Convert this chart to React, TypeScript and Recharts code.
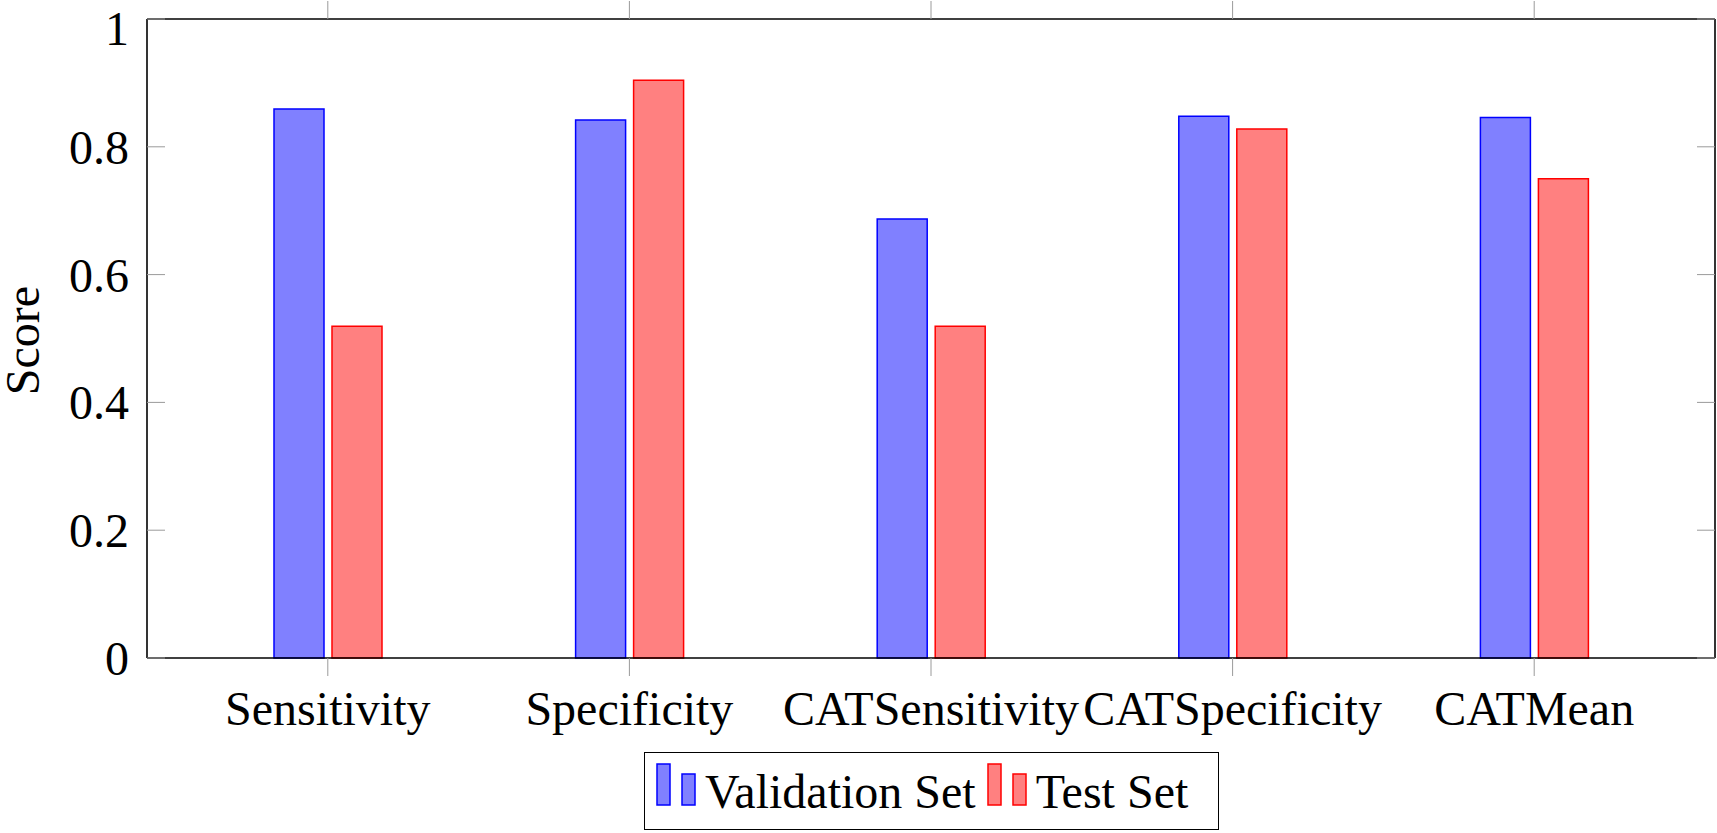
import { BarChart, Bar, XAxis, YAxis, Legend } from 'recharts';

const categories = ['Sensitivity', 'Specificity', 'CATSensitivity', 'CATSpecificity', 'CATMean'];
const validationScores = [0.859, 0.842, 0.687, 0.848, 0.846];
const testScores = [0.519, 0.904, 0.519, 0.828, 0.75];
const yTicks = [0, 0.2, 0.4, 0.6, 0.8, 1];
const seriesNames = ['Validation Set', 'Test Set'];

const data = categories.map((name, i) => ({
  name,
  validation: validationScores[i],
  test: testScores[i],
}));

const FONT = '"Liberation Serif", "Times New Roman", serif';
const TICK_GREY = '#9a9a9a';

const legendItems = [
  { label: seriesNames[0], fill: '#8080ff', stroke: '#0000ff' },
  { label: seriesNames[1], fill: '#ff8080', stroke: '#ff0000' },
];

// pgfplots-style legend: two little bars next to each entry
function renderLegend() {
  return (
    <div
      style={{
        width: 575,
        height: 78,
        border: '1.5px solid #000',
        boxSizing: 'border-box',
        display: 'flex',
        alignItems: 'center',
        paddingLeft: 11,
        fontFamily: FONT,
        fontSize: 48,
        color: '#000',
        background: '#fff',
      }}
    >
      {legendItems.map((item) => (
        <div key={item.label} style={{ display: 'flex', alignItems: 'center' }}>
          <svg width={40} height={43} style={{ marginBottom: 13 }}>
            <rect x={1} y={1} width={13} height={41} fill={item.fill} stroke={item.stroke} strokeWidth={1.5} />
            <rect x={26} y={11} width={13} height={31} fill={item.fill} stroke={item.stroke} strokeWidth={1.5} />
          </svg>
          <span style={{ marginLeft: 9, marginRight: 11, whiteSpace: 'nowrap' }}>{item.label}</span>
        </div>
      ))}
    </div>
  );
}

function renderScoreLabel(props: any) {
  const vb = props.viewBox || {};
  const cx = (vb.x ?? 0) + 22;
  const cy = (vb.y ?? 0) + (vb.height ?? 0) / 2 + 2;
  return (
    <text
      x={cx}
      y={cy}
      transform={`rotate(-90 ${cx} ${cy})`}
      textAnchor="middle"
      dominantBaseline="central"
      fontFamily={FONT}
      fontSize={48}
      fill="#000"
    >
      Score
    </text>
  );
}

export default function App() {
  return (
    <div style={{ position: 'fixed', left: 0, top: 0, background: '#fff' }}>
      <BarChart
        width={1717}
        height={833}
        data={data}
        margin={{ top: 0, right: 0, bottom: 95, left: 0 }}
        barSize={50}
        barGap={8}
      >
        <XAxis
          dataKey="name"
          interval={0}
          padding={{ left: 30, right: 30 }}
          height={80}
          tickSize={18}
          tickMargin={15}
          axisLine={{ stroke: '#000', strokeWidth: 1.6 }}
          tickLine={{ stroke: TICK_GREY, strokeWidth: 1 }}
          tick={{ fontFamily: FONT, fontSize: 48, fill: '#000' }}
        />
        <XAxis
          xAxisId="top"
          orientation="top"
          dataKey="name"
          interval={0}
          padding={{ left: 30, right: 30 }}
          height={19}
          tickSize={18}
          axisLine={{ stroke: '#000', strokeWidth: 1.6 }}
          tickLine={{ stroke: TICK_GREY, strokeWidth: 1 }}
          tick={() => <g />}
        />
        <YAxis
          type="number"
          domain={[0, 1]}
          ticks={yTicks}
          width={147}
          tickSize={-18}
          tickMargin={36}
          axisLine={{ stroke: '#000', strokeWidth: 1.6 }}
          tickLine={{ stroke: TICK_GREY, strokeWidth: 1 }}
          tick={{ fontFamily: FONT, fontSize: 48, fill: '#000' }}
          label={renderScoreLabel}
        />
        <YAxis
          yAxisId="right"
          orientation="right"
          type="number"
          domain={[0, 1]}
          allowDataOverflow
          ticks={yTicks}
          width={2}
          tickSize={-18}
          axisLine={{ stroke: '#000', strokeWidth: 1.6 }}
          tickLine={{ stroke: TICK_GREY, strokeWidth: 1 }}
          tick={() => <g />}
        />
        <Legend
          layout="horizontal"
          verticalAlign="middle"
          align="center"
          content={renderLegend}
          wrapperStyle={{ left: 644, top: 752, width: 575, height: 78 }}
        />
        <Bar dataKey="validation" name={seriesNames[0]} fill="#8080ff" stroke="#0000ff" strokeWidth={1.5} isAnimationActive={false} />
        <Bar dataKey="test" name={seriesNames[1]} fill="#ff8080" stroke="#ff0000" strokeWidth={1.5} isAnimationActive={false} />
      </BarChart>
    </div>
  );
}
